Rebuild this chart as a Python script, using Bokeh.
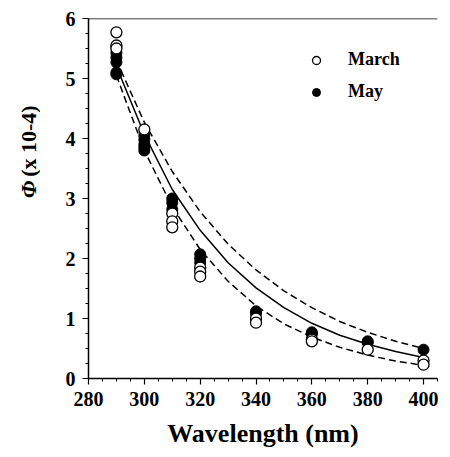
import math
from bokeh.plotting import figure
from bokeh.layouts import row
from bokeh.models import (SingleIntervalTicker, Span, Legend, LegendItem, Range1d)
from bokeh.core.properties import value
from bokeh.embed import file_html
from bokeh.resources import INLINE

# --- data ---
march_wl = [290, 290, 290, 300, 310, 310, 310, 320, 320, 320, 340, 340, 360, 360, 380, 400, 400]
march_phi = [5.77, 5.55, 5.50, 4.15, 2.75, 2.62, 2.52, 1.85, 1.78, 1.70, 1.00, 0.93, 0.65, 0.62, 0.48, 0.30, 0.23]

may_wl = [290, 290, 290, 290, 290, 300, 300, 300, 300, 300, 310, 310, 310, 320, 320, 320, 340, 340, 360, 360, 380, 380, 400]
may_phi = [5.43, 5.35, 5.27, 5.10, 5.07, 4.05, 3.98, 3.90, 3.85, 3.80, 3.00, 2.93, 2.82, 2.07, 2.00, 1.93, 1.12, 1.08, 0.77, 0.74, 0.62, 0.60, 0.48]

curve_wl = [290, 300, 310, 320, 330, 340, 350, 360, 370, 380, 390, 400]
fit_phi = [5.20, 4.07, 3.15, 2.47, 1.93, 1.51, 1.18, 0.92, 0.72, 0.57, 0.45, 0.35]
upper_phi = [5.30, 4.27, 3.45, 2.78, 2.24, 1.81, 1.46, 1.18, 0.95, 0.77, 0.62, 0.50]
lower_phi = [5.05, 3.80, 2.86, 2.15, 1.62, 1.21, 0.91, 0.69, 0.52, 0.39, 0.29, 0.22]

x_ticks_interval = 20
y_ticks_interval = 1

y_label_parts = ["Φ", "(x 10-4)"]

FONT = "Liberation Serif"

# narrow strip holding the rotated y-axis title
lab = figure(width=40, height=457, output_backend="svg", toolbar_location=None,
             x_range=Range1d(0, 40), y_range=Range1d(0, 457),
             x_axis_type=None, y_axis_type=None, min_border=0)
lab.outline_line_color = None
lab.grid.visible = False
lab.background_fill_color = "white"
lab.border_fill_color = "white"
lab.text(x=[28], y=[229], text=[y_label_parts[0]], angle=math.pi / 2,
         text_font=value(FONT), text_font_style="bold italic", text_font_size="22px",
         text_align="left", text_baseline="middle", text_color="black")
lab.text(x=[28], y=[256], text=[y_label_parts[1]], angle=math.pi / 2,
         text_font=value(FONT), text_font_style="bold", text_font_size="22px",
         text_align="left", text_baseline="middle", text_color="black")

p = figure(width=410, height=457, output_backend="svg", toolbar_location=None,
           x_range=Range1d(280, 405), y_range=Range1d(0, 6),
           min_border_left=48, min_border_right=13, min_border_top=18, min_border_bottom=79)
p.outline_line_color = None
p.grid.visible = False
p.background_fill_color = "white"
p.border_fill_color = "white"

for ax in (p.xaxis[0], p.yaxis[0]):
    ax.axis_line_width = 1.5
    ax.axis_line_color = "black"
    ax.major_tick_line_color = "black"
    ax.minor_tick_line_color = "black"
    ax.major_tick_line_width = 1.2
    ax.minor_tick_line_width = 1
    ax.major_tick_out = 6
    ax.major_tick_in = 0
    ax.minor_tick_out = 3
    ax.minor_tick_in = 0
    ax.major_label_text_font = FONT
    ax.major_label_text_font_style = "bold"
    ax.major_label_text_font_size = "20px"
    ax.major_label_text_color = "black"

p.xaxis.ticker = SingleIntervalTicker(interval=x_ticks_interval, num_minor_ticks=4)
p.yaxis.ticker = SingleIntervalTicker(interval=y_ticks_interval, num_minor_ticks=4)
p.xaxis.major_label_standoff = 7
p.yaxis.major_label_standoff = 7
p.xaxis.axis_label = "Wavelength (nm)"
p.xaxis.axis_label_text_font = FONT
p.xaxis.axis_label_text_font_style = "bold"
p.xaxis.axis_label_text_font_size = "26px"
p.xaxis.axis_label_text_color = "black"
p.xaxis.axis_label_standoff = 10

# top border line
p.add_layout(Span(location=6, dimension="width", line_color="black", line_width=1.5))

# fitted curves
p.line(curve_wl, upper_phi, line_color="black", line_width=1.5, line_dash="7 4")
p.line(curve_wl, lower_phi, line_color="black", line_width=1.5, line_dash="7 4")
p.line(curve_wl, fit_phi, line_color="black", line_width=1.5)

r_may = p.scatter(may_wl, may_phi, marker="circle", size=11, fill_color="black", line_color="black", line_width=1)
r_mar = p.scatter(march_wl, march_phi, marker="circle", size=11, fill_color="white", line_color="black", line_width=1.3)

legend = Legend(items=[LegendItem(label="March", renderers=[r_mar]),
                       LegendItem(label="May", renderers=[r_may])],
                location=(218, 276), orientation="vertical",
                glyph_height=20, glyph_width=20, label_height=20, spacing=11,
                padding=0, margin=0, label_standoff=22,
                border_line_color=None, background_fill_alpha=0,
                label_text_font=FONT, label_text_font_style="bold",
                label_text_font_size="18px", label_text_color="black")
p.add_layout(legend)

layout = row(lab, p, spacing=0)
open("out.html", "w").write(file_html(layout, INLINE))
